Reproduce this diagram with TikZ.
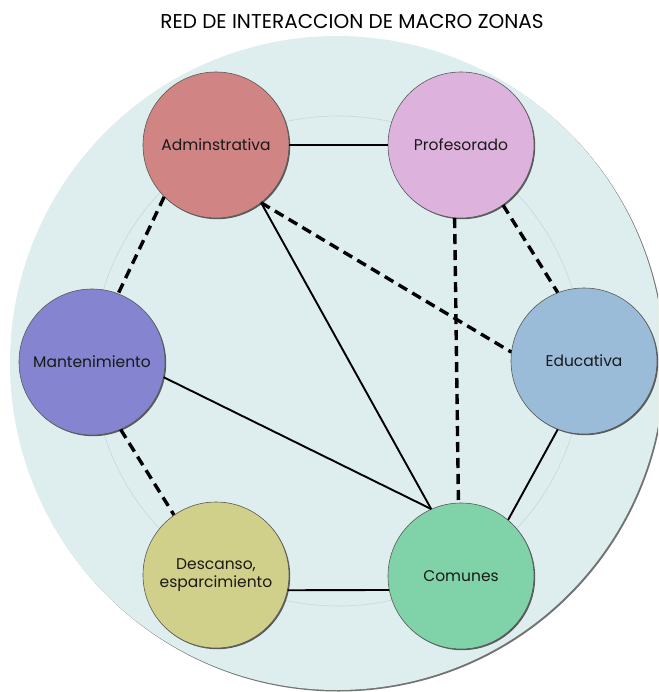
\documentclass[tikz,border=0pt]{standalone}
\usepackage{fontspec}
\setmainfont{Poppins}
\usetikzlibrary{shadows}
\definecolor{bgc}{RGB}{222,238,238}
\definecolor{ringc}{RGB}{200,216,216}
\definecolor{cadm}{RGB}{208,132,132}
\definecolor{cpro}{RGB}{221,179,221}
\definecolor{cman}{RGB}{132,132,208}
\definecolor{cedu}{RGB}{155,188,217}
\definecolor{cdes}{RGB}{209,208,138}
\definecolor{ccom}{RGB}{128,211,168}
\tikzset{
  zone/.style={circle, minimum size=146pt, inner sep=0pt, draw=black!65, line width=0.6pt,
    text=black!90, align=center, font=\fontsize{15.5}{18.5}\selectfont,
    drop shadow={shadow xshift=1.2pt, shadow yshift=-1.2pt, fill=black!70, opacity=0.9}},
  strong/.style={line width=1.9pt, draw=black},
  weak/.style={line width=3.4pt, draw=black, dash pattern=on 10pt off 6pt},
  ttl/.style={font=\fontsize{20}{24}\selectfont, text=black}
}
\begin{document}
\begin{tikzpicture}[x=1pt,y=-1pt]
\useasboundingbox (0,0) rectangle (658,692);
\begin{scope}
\clip (0,0) rectangle (658,692);
\fill[black!55] (338.5,364.5) circle (327);
\fill[bgc] (337,363) circle (327);
\end{scope}
\draw[ringc, line width=0.6pt] (338,361) circle (245);
\node[ttl] (title) at (352,22) {RED DE INTERACCION DE MACRO ZONAS};
\node[zone, fill=cadm] (A) at (216,145) {Adminstrativa};
\node[zone, fill=cpro] (P) at (461,145) {Profesorado};
\node[zone, fill=cman] (M) at (92,362) {Mantenimiento};
\node[zone, fill=cedu] (E) at (584,361) {Educativa};
\node[zone, fill=cdes] (D) at (216,575) {Descanso,\\esparcimiento};
\node[zone, fill=ccom] (C) at (461,576) {Comunes};
\draw[strong] (A.0) -- (P.180);
\draw[strong] (A.-52) -- (C.114);
\draw[strong] (M.-12) -- (C.114);
\draw[strong] (D.-12) -- (C.191);
\draw[strong] (E.-111) -- (C.50);
\draw[weak] (A.-135) -- (M.69);
\draw[weak] (A.-52) -- (E.173);
\draw[weak] (P.-95) -- (C.92);
\draw[weak] (P.-55) -- (E.111);
\draw[weak] (M.-67) -- (D.125);
\end{tikzpicture}
\end{document}
